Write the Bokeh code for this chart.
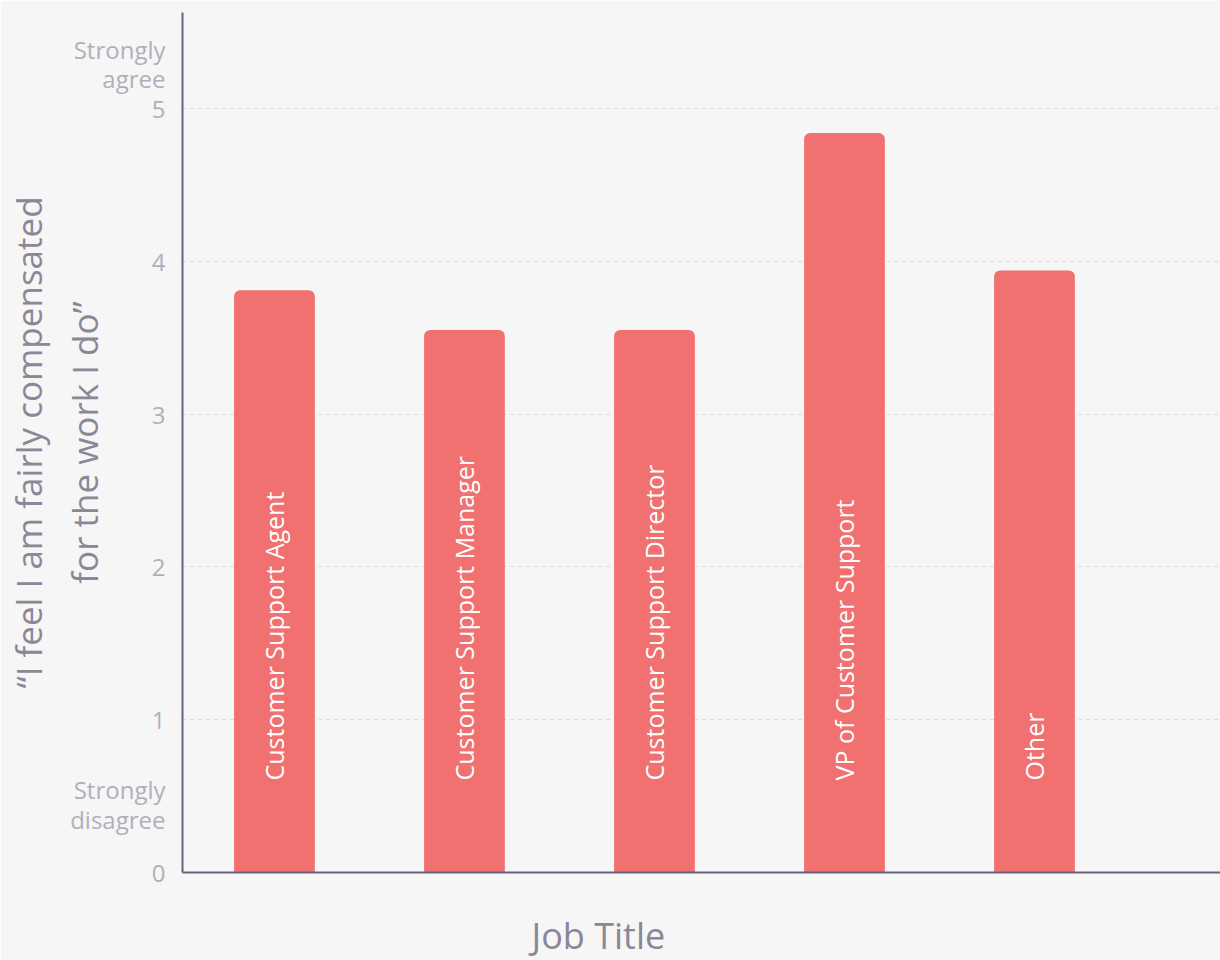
import math
from bokeh.plotting import figure
from bokeh.models import ColumnDataSource, Range1d, FixedTicker, Title
from bokeh.core.properties import value
from bokeh.embed import file_html
from bokeh.resources import INLINE

# ---- data ----
job_titles = ["Customer Support Agent", "Customer Support Manager",
              "Customer Support Director", "VP of Customer Support", "Other"]
scores = [3.81, 3.55, 3.55, 4.84, 3.94]
y_ticks = [0, 1, 2, 3, 4, 5]
anchor_ticks = {0.445: "Strongly\ndisagree", 5.29: "Strongly\nagree"}
y_title = "\u201cI feel I am fairly compensated\nfor the work I do\u201d"
x_title = "Job Title"

BG = "#f6f6f6"
BAR = "#f17070"
AXIS = "#67637a"
TICK_TXT = "#b2afba"
TITLE_TXT = "#8b8797"
FONT = "Open Sans"

xs = list(range(len(job_titles)))
src = ColumnDataSource(dict(x=xs, top=scores, name=job_titles, zero=[0] * len(xs)))

p = figure(width=1220, height=960, output_backend="svg", toolbar_location=None,
           x_range=Range1d(-0.484, 4.979), y_range=Range1d(0, 5.628),
           min_border_left=182, min_border_right=0, min_border_top=12,
           min_border_bottom=88)
p.background_fill_color = BG
p.border_fill_color = BG
p.outline_line_color = None

p.vbar(x="x", top="top", width=0.425, source=src, fill_color=BAR,
       line_color=None, border_radius=(6, 6, 0, 0))

p.text(x="x", y="zero", text="name", source=src, angle=math.pi / 2,
       text_align="left", text_baseline="middle", y_offset=-92,
       text_color="white", text_font=value(FONT), text_font_size="25px")

# x axis
p.xaxis.ticker = FixedTicker(ticks=[])
p.xaxis.major_label_text_font_size = "0px"
p.xaxis.axis_line_color = AXIS
p.xaxis.axis_line_width = 2
p.xaxis.major_tick_line_color = None
p.xaxis.minor_tick_line_color = None

# leading blank line pushes the visible title lower inside its panel
p.add_layout(Title(text="\n" + x_title, align="left", offset=349, standoff=-26,
                   vertical_align="bottom",
                   text_color=TITLE_TXT, text_font=FONT, text_font_size="36px",
                   text_font_style="normal"), "below")

# y axis
p.yaxis.ticker = FixedTicker(ticks=y_ticks + list(anchor_ticks.keys()))
p.yaxis.major_label_overrides = {k: v for k, v in anchor_ticks.items()}
p.yaxis.axis_line_color = AXIS
p.yaxis.axis_line_width = 2
p.yaxis.major_tick_line_color = None
p.yaxis.minor_tick_line_color = None
p.yaxis.major_label_standoff = 11
p.yaxis.major_label_text_color = TICK_TXT
p.yaxis.major_label_text_font = FONT
p.yaxis.major_label_text_font_size = "24px"
p.yaxis.major_label_text_line_height = 0.9
p.yaxis.axis_label = y_title
p.yaxis.axis_label_standoff = -41
p.yaxis.axis_label_text_color = TITLE_TXT
p.yaxis.axis_label_text_font = FONT
p.yaxis.axis_label_text_font_size = "35px"
p.yaxis.axis_label_text_line_height = 1.2
p.yaxis.axis_label_text_font_style = "normal"
p.yaxis.axis_label_text_align = "center"

p.xgrid.visible = False
p.ygrid.ticker = FixedTicker(ticks=[t for t in y_ticks if t > 0])
p.ygrid.grid_line_color = "#dcdcdc"
p.ygrid.grid_line_dash = "4 4"
p.ygrid.grid_line_width = 1

open("out.html", "w").write(file_html(p, INLINE))
